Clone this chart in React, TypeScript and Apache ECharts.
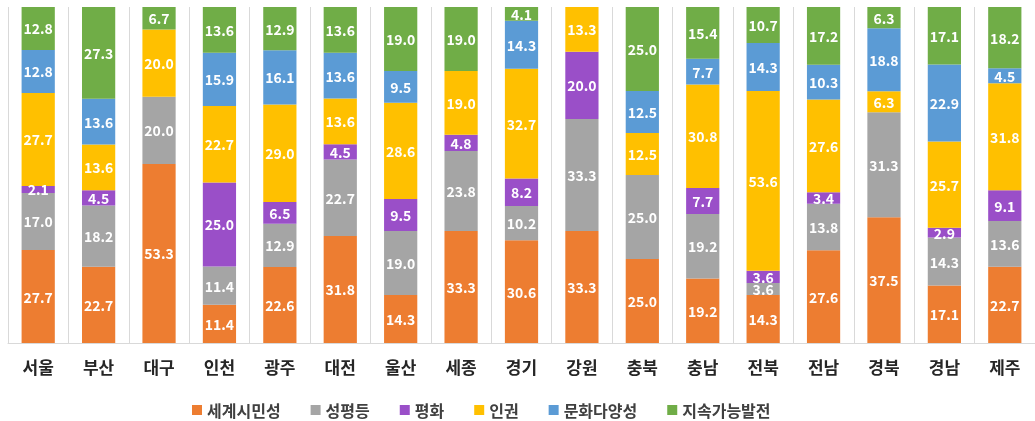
import React, { useEffect, useRef } from "react";
import * as echarts from "echarts";

const categories = ["서울", "부산", "대구", "인천", "광주", "대전", "울산", "세종", "경기", "강원", "충북", "충남", "전북", "전남", "경북", "경남", "제주"];
const seriesNames = ["세계시민성", "성평등", "평화", "인권", "문화다양성", "지속가능발전"];
const citizenship = [27.7, 22.7, 53.3, 11.4, 22.6, 31.8, 14.3, 33.3, 30.6, 33.3, 25.0, 19.2, 14.3, 27.6, 37.5, 17.1, 22.7];
const genderEquality = [17.0, 18.2, 20.0, 11.4, 12.9, 22.7, 19.0, 23.8, 10.2, 33.3, 25.0, 19.2, 3.6, 13.8, 31.3, 14.3, 13.6];
const peace = [2.1, 4.5, 0, 25.0, 6.5, 4.5, 9.5, 4.8, 8.2, 20.0, 0, 7.7, 3.6, 3.4, 0, 2.9, 9.1];
const humanRights = [27.7, 13.6, 20.0, 22.7, 29.0, 13.6, 28.6, 19.0, 32.7, 13.3, 12.5, 30.8, 53.6, 27.6, 6.3, 25.7, 31.8];
const diversity = [12.8, 13.6, 0, 15.9, 16.1, 13.6, 9.5, 0, 14.3, 0, 12.5, 7.7, 14.3, 10.3, 18.8, 22.9, 4.5];
const sustainability = [12.8, 27.3, 6.7, 13.6, 12.9, 13.6, 19.0, 19.0, 4.1, 0, 25.0, 15.4, 10.7, 17.2, 6.3, 17.1, 18.2];
const colors = ["#ED7D31", "#A5A5A5", "#9A4FC8", "#FFC000", "#5B9BD5", "#70AD47"];

const allSeries = [citizenship, genderEquality, peace, humanRights, diversity, sustainability];

export default function App() {
  const ref = useRef<HTMLDivElement>(null);
  useEffect(() => {
    if (!ref.current) return;
    const chart = echarts.init(ref.current, null, { renderer: "svg" });
    const totals = categories.map((_, i) => allSeries.reduce((s, arr) => s + arr[i], 0));
    const font = '"Noto Sans CJK KR", "Noto Sans", sans-serif';
    chart.setOption({
      animation: false,
      color: colors,
      grid: { left: 8, right: 0, top: 7, bottom: 78, containLabel: false },
      legend: {
        left: 187,
        top: 397,
        itemWidth: 10,
        itemHeight: 10,
        itemGap: 30,
        icon: "rect",
        textStyle: { fontSize: 16, fontWeight: "bold", color: "#404040", fontFamily: font },
        data: seriesNames,
      },
      xAxis: {
        type: "category",
        data: categories,
        axisTick: { show: false },
        axisLine: { show: true, lineStyle: { color: "#D9D9D9", width: 1 } },
        splitLine: { show: true, lineStyle: { color: "#D9D9D9", width: 1 } },
        axisLabel: { fontSize: 17, fontWeight: "bold", color: "#262626", margin: 15, fontFamily: font },
      },
      yAxis: {
        type: "value",
        min: 0,
        max: 100,
        show: false,
        splitLine: { show: false },
      },
      series: seriesNames.map((name, si) => ({
        name,
        type: "bar",
        stack: "total",
        barWidth: "55%",
        data: allSeries[si].map((v, i) => ({ value: v === 0 ? null : (v / totals[i]) * 100, raw: v })),
        label: {
          show: true,
          position: "inside",
          color: "#FFFFFF",
          fontSize: 14,
          fontWeight: "bold",
          fontFamily: font,
          formatter: (p: any) => (p.data && p.data.raw ? p.data.raw.toFixed(1) : ""),
        },
      })),
    });
    return () => chart.dispose();
  }, []);
  return <div ref={ref} style={{ position: "fixed", left: 0, top: 0, width: 1035, height: 421 }} />;
}
